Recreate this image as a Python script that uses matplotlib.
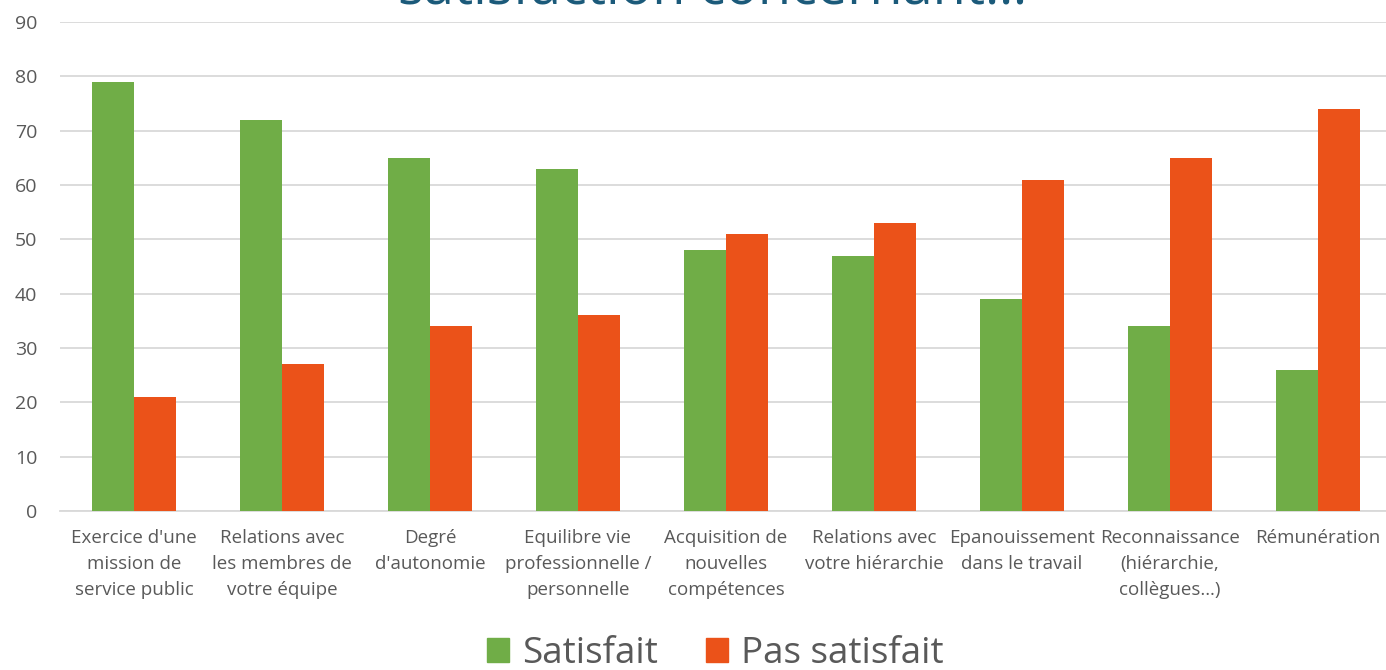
import matplotlib
matplotlib.use("Agg")
import matplotlib.pyplot as plt
import numpy as np
from matplotlib.patches import Patch

categories = [
    "Exercice d'une\nmission de\nservice public",
    "Relations avec\nles membres de\nvotre équipe",
    "Degré\nd'autonomie",
    "Equilibre vie\nprofessionnelle /\npersonnelle",
    "Acquisition de\nnouvelles\ncompétences",
    "Relations avec\nvotre hiérarchie",
    "Epanouissement\ndans le travail",
    "Reconnaissance\n(hiérarchie,\ncollègues…)",
    "Rémunération",
]
satisfait = [79, 72, 65, 63, 48, 47, 39, 34, 26]
pas_satisfait = [21, 27, 34, 36, 51, 53, 61, 65, 74]
series_names = ["Satisfait", "Pas satisfait"]
yticks = list(range(0, 91, 10))
title = "satisfaction concernant…"

green = "#70AD47"
orange = "#EB5219"
text_color = "#595959"

plt.rcParams['font.family'] = ['Open Sans', 'DejaVu Sans']

fig = plt.figure(figsize=(13.86, 6.70), dpi=100)
ax = fig.add_axes([60/1386, 1 - 511/670, 1332/1386, (511-22)/670])

x = np.arange(len(categories))
w = 0.285
ax.bar(x - w/2, satisfait, width=w, color=green, zorder=3)
ax.bar(x + w/2, pas_satisfait, width=w, color=orange, zorder=3)

ax.set_xlim(-0.5, len(categories) - 0.5)
ax.set_ylim(0, 90)
ax.set_yticks(yticks)
ax.yaxis.grid(True, color="#D9D9D9", linewidth=1.3, zorder=0)
for s in ["top", "right", "left"]:
    ax.spines[s].set_visible(False)
ax.spines["bottom"].set_color("#D9D9D9")
ax.spines["bottom"].set_linewidth(1.3)
ax.tick_params(axis="y", length=0, pad=16.5, labelsize=14, labelcolor=text_color)
ax.tick_params(axis="x", length=0, pad=13, labelsize=13.5, labelcolor=text_color)
ax.set_xticks(x)
ax.set_xticklabels(categories, linespacing=1.56)

fig.text(0.514, 1 - 4/670, title, ha="center", va="baseline",
         fontsize=39, color="#1B5A7A")

handles = [Patch(color=green, label=series_names[0]),
           Patch(color=orange, label=series_names[1])]
fig.legend(handles=handles, loc="center", bbox_to_anchor=(0.516, 1 - 654/670),
           ncol=2, frameon=False, fontsize=26.5, labelcolor=text_color,
           handlelength=0.6, handleheight=0.6, handletextpad=0.35,
           columnspacing=1.3)

fig.savefig("out.png", dpi=100)
